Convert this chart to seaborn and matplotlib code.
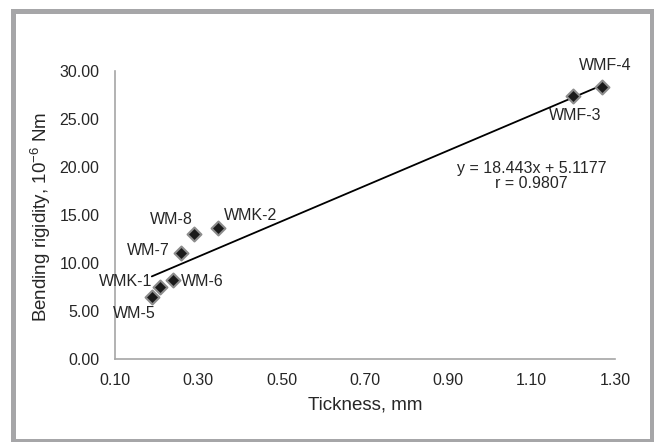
import matplotlib
matplotlib.use("Agg")
import matplotlib.pyplot as plt
import seaborn as sns
import numpy as np
import pandas as pd
from matplotlib.patches import Rectangle

sns.set_theme(style="white")
plt.rcParams['font.family'] = ['Liberation Sans', 'DejaVu Sans']
plt.rcParams['mathtext.fontset'] = 'custom'
plt.rcParams['mathtext.rm'] = 'Liberation Sans'
plt.rcParams['mathtext.it'] = 'Liberation Sans'
plt.rcParams['mathtext.default'] = 'regular'

samples = ["WM-5", "WMK-1", "WM-6", "WM-7", "WM-8", "WMK-2", "WMF-3", "WMF-4"]
thickness = [0.189, 0.209, 0.239, 0.259, 0.291, 0.348, 1.200, 1.269]
rigidity = [6.49, 7.53, 8.23, 11.00, 12.99, 13.60, 27.40, 28.30]
slope = 18.443
intercept = 5.1177
r_value = 0.9807

xticks = [0.10, 0.30, 0.50, 0.70, 0.90, 1.10, 1.30]
yticks = [0.0, 5.0, 10.0, 15.0, 20.0, 25.0, 30.0]

# label offsets in points (dx, dy, ha, va)
label_pos = {
    "WM-5": (3, -7, "right", "top"),
    "WMK-1": (-6, 4, "right", "center"),
    "WM-6": (6, -1, "left", "center"),
    "WM-7": (-8, 2, "right", "center"),
    "WM-8": (-1, 5, "right", "bottom"),
    "WMK-2": (4, 4, "left", "bottom"),
    "WMF-3": (1, -9, "center", "top"),
    "WMF-4": (2, 10, "center", "bottom"),
}

df = pd.DataFrame({"sample": samples, "thickness": thickness, "rigidity": rigidity})

fig = plt.figure(figsize=(6.54, 4.42), dpi=100)
ax = fig.add_axes([114.7/654, 1-359/442, (615-114.7)/654, (359-71)/442])

xs = np.array([min(thickness), max(thickness)])
trend = pd.DataFrame({"x": xs, "y": slope*xs + intercept})
sns.lineplot(data=trend, x="x", y="y", ax=ax, color="black", lw=1.3, zorder=2)

sns.scatterplot(data=df, x="thickness", y="rigidity", ax=ax, marker="D", s=50,
                color="#1a1a1a", edgecolor="#8c8c8c", linewidth=1.5, zorder=3)

fs = 11.5
for s, x, y in zip(samples, thickness, rigidity):
    dx, dy, ha, va = label_pos[s]
    ax.annotate(s, (x, y), xytext=(dx, dy), textcoords="offset points",
                ha=ha, va=va, fontsize=fs, color="#262626")

ax.text(1.10, 19.8, f"y = {slope}x + {intercept}", ha="center", va="center",
        fontsize=fs, color="#262626")
ax.text(1.10, 18.25, f"r = {r_value}", ha="center", va="center",
        fontsize=fs, color="#262626")

ax.set_xlim(0.10, 1.30)
ax.set_ylim(0, 30)
ax.set_xticks(xticks)
ax.set_yticks(yticks)
ax.set_xticklabels([f"{t:.2f}" for t in xticks])
ax.set_yticklabels([f"{t:.2f}" for t in yticks])
ax.tick_params(axis="both", length=0, labelsize=fs, labelcolor="#262626")
ax.tick_params(axis="x", pad=10)
ax.tick_params(axis="y", pad=11)

for sp in ["top", "right"]:
    ax.spines[sp].set_visible(False)
for sp in ["left", "bottom"]:
    ax.spines[sp].set_color("#a6a6a6")
    ax.spines[sp].set_linewidth(1.2)

ax.set_xlabel("Tickness, mm", fontsize=13.5, color="#262626")
ax.set_ylabel("Bending rigidity, 10$^{-6}$ Nm", fontsize=13.5, color="#262626")
ax.xaxis.set_label_coords(0.5, -(405-359)/(359-71))
ax.xaxis.label.set_va("center")
ax.yaxis.set_label_coords(-(114.7-41)/(615-114.7), (359-217)/(359-71))
ax.yaxis.label.set_va("center")

# outer grey frame
fig.patches.append(Rectangle((12.5/654, 1.0/442), (652-12.5)/654, (441-10.5)/442,
                             transform=fig.transFigure, fill=False,
                             edgecolor="#a6a6a8", linewidth=3.6))

fig.savefig("out.png", dpi=100)
